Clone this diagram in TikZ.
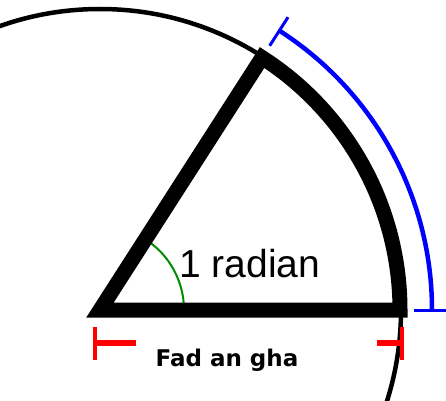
\documentclass[tikz,border=0pt]{standalone}
\usepackage{fontspec}
\newfontfamily\radfont{Liberation Sans}
\newfontfamily\lenfont{DejaVu Sans}
\usetikzlibrary{arrows.meta}
\tikzset{
  circline/.style  = {line width=4.5pt,black},
  sectline/.style  = {line width=15pt,black,line join=miter},
  bluearc/.style   = {line width=4.5pt,blue},
  bluetick/.style  = {line width=3pt,blue},
  redtick/.style   = {line width=4pt,red},
  redbar/.style    = {line width=6pt,red},
  anglearc/.style  = {line width=2pt,green!55!black}
}

\begin{document}
\begin{tikzpicture}[x=1pt,y=1pt]
  \clip (0,0) rectangle (446,400);
  \coordinate (O) at (100,90);
  \coordinate (A) at (400,90);
  \coordinate (B) at ({100+300*cos(1 r)},{90+300*sin(1 r)});
  % circle and the sector of one radian
  \draw[circline] (O) circle[radius=301];
  \draw[anglearc] ([shift={(0:84)}]O) arc[start angle=0,end angle=57.2958,radius=84];
  \draw[sectline] (O) -- (A) arc[start angle=0,end angle=57.2958,radius=300] -- cycle;
  \node[font=\radfont\fontsize{39}{41}\selectfont,anchor=base west,inner sep=0] (rad) at (179,123) {1 radian};
  % blue arc length
  \draw[bluearc] ([shift={(0:332)}]O) arc[start angle=0,end angle=57.2958,radius=332];
  \draw[bluetick] ([shift={(0:314)}]O) -- ([shift={(0:350)}]O);
  \draw[bluetick] ([shift={(57.2958:314)}]O) -- ([shift={(57.2958:348)}]O);
  % red radius length
  \coordinate (L) at (95,57);
  \coordinate (R) at (402,57);
  \draw[redtick] ([yshift=16pt]L) -- ([yshift=-17pt]L);
  \draw[redbar] (L) -- ++(41,0);
  \draw[redtick] ([yshift=16pt]R) -- ([yshift=-17pt]R);
  \draw[redbar] (R) -- ++(-25,0);
  \node[font=\lenfont\bfseries\fontsize{23}{26}\selectfont,anchor=base,inner sep=0] (len) at (227,34) {Fad an gha};
\end{tikzpicture}
\end{document}
